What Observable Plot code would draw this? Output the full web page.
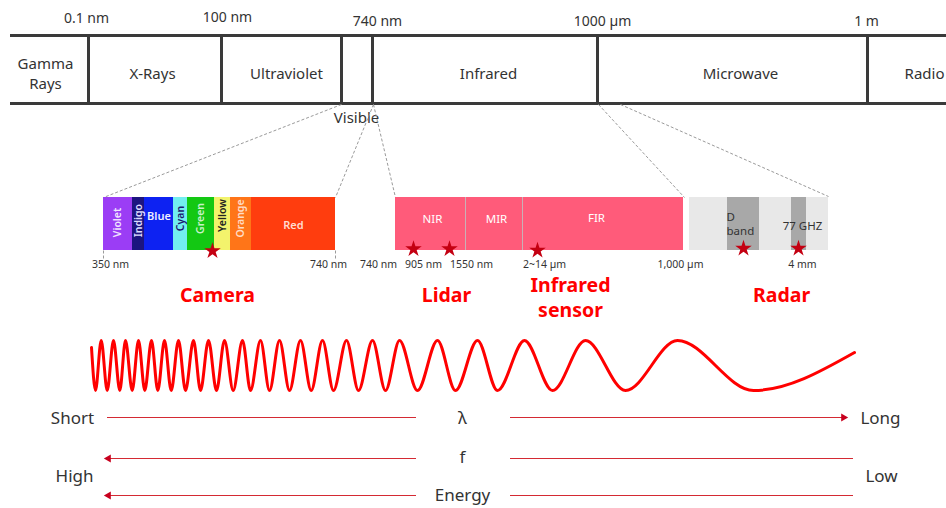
<!DOCTYPE html>
<html><head><meta charset="utf-8">
<script src="https://cdn.jsdelivr.net/npm/d3@7"></script>
<script src="https://cdn.jsdelivr.net/npm/@observablehq/plot@0.6"></script>
<style>body{margin:0;background:#fff;} svg{display:block}</style>
</head><body><div id="chart"></div>
<script>
// ---------------- data ----------------
const bandNames = ["Gamma\nRays", "X-Rays", "Ultraviolet", "", "Infrared", "Microwave", "Radio"];
const bandEdgeLabels = ["0.1 nm", "100 nm", "740 nm", "1000 µm", "1 m"];
const visibleLabel = "Visible";
const visibleColorNames = ["Violet", "Indigo", "Blue", "Cyan", "Green", "Yellow", "Orange", "Red"];
const visibleRangeLabels = ["350 nm", "740 nm"];
const infraredBands = ["NIR", "MIR", "FIR"];
const infraredTickLabels = ["740 nm", "905 nm", "1550 nm", "2~14 µm", "1,000 µm"];
const radarBands = ["D\nband", "77 GHZ"];
const radarTickLabels = ["4 mm"];
const sensorNames = ["Camera", "Lidar", "Infrared\nsensor", "Radar"];
const axisQuantities = ["λ", "f", "Energy"];
const endLabelsLeft = ["Short", "High"];
const endLabelsRight = ["Long", "Low"];
// wave: x of start, alternating troughs/peaks, end; level in units of amplitude (+1 = crest)
const waveX = [91, 95, 100.7, 106.7, 113, 119.3, 125, 131.7, 138, 144.3, 151, 157.3, 164, 170.7, 178, 185, 193, 200, 208, 216, 224, 232.7, 242, 250, 260, 269, 279, 289, 300, 310.7, 322, 333, 346, 358, 372, 385, 399, 417, 437, 455, 477, 497, 524, 552, 585, 625, 677, 753, 854];
const waveLevel = [0.72, ...waveX.slice(1, -1).map((_, i) => (i % 2 === 0 ? -1 : 1)), 0.52];

// ---------------- layout & style ----------------
const W = 946, H = 508;
const FONT = "'Noto Sans', 'Open Sans', sans-serif";
const dark = "#3a3a3a", textCol = "#333333";
const band = {top: 35, bottom: 103, left: 10, right: 946,
  dividers: [88, 221, 341, 372, 597, 867],
  labelX: [45, 152, 286, 356, 488, 740, 924], labelY: 72,
  edgeX: [86, 227, 377, 602, 866], edgeY: [18, 17, 21, 21, 21]};
const bar = {top: 197, bottom: 250};
const vis = {edges: [103, 132, 144, 173, 187, 214, 230, 251, 335],
  fills: ["#9b3df5", "#1c1580", "#0d22f2", "#72eef0", "#13c813", "#f3f36c", "#ff7518", "#ff3d0e"],
  textFills: ["#f0e4ff", "#dcdcff", "#eeeeff", "#1c1a70", "#c8f2c8", "#222222", "#ffdcc4", "#ffdcd0"],
  rotate: [-90, -90, 0, -90, -90, -90, -90, 0],
  labelY: [222, 220, 216, 218, 218, 215, 218, 225],
  tickX: [110, 328]};
const ir = {edges: [395, 465, 522, 683], fill: "#ff5b7a", labelX: [432, 496, 596], labelY: [219, 219, 218],
  tickX: [378, 423, 471, 544, 680]};
const radar = {x1: 689, x2: 828, bands: [[727, 759], [791, 806]], fill: "#e8e8e8", bandFill: "#a8a8a8",
  labels: [{x: 726, y: 223, anchor: "start"}, {x: 802, y: 226, anchor: "middle"}], tickX: [802]};
const tickY = 264;
const stars = [{x: 212, y: 250.5}, {x: 413, y: 248.5}, {x: 449, y: 248.5}, {x: 537, y: 250}, {x: 743, y: 248}, {x: 798, y: 248}];
const sensorPos = [{x: 217, y: 293}, {x: 446, y: 293}, {x: 570, y: 296}, {x: 781, y: 293}];
const dashLinks = [
  {x1: 341, y1: 104, x2: 103, y2: 197}, {x1: 373, y1: 104, x2: 335, y2: 197},
  {x1: 373, y1: 104, x2: 395, y2: 197}, {x1: 598, y1: 104, x2: 684, y2: 197},
  {x1: 620, y1: 104, x2: 828, y2: 196},
  {x1: 103, y1: 250, x2: 103, y2: 259}, {x1: 335, y1: 250, x2: 335, y2: 259}];
const wave = {mid: 365, amp: 25};
const rows = [{y: 417, dir: "right", labelY: 418}, {y: 458, dir: "left", labelY: 457}, {y: 495, dir: "left", labelY: 495}];
const arrowCol = "#d42a33", headCol = "#c8001e";
const leftSeg = [107, 416], rightSeg = [510, 853];

// ---------------- tables built from the arrays ----------------
const bandText = bandNames.map((t, i) => ({t: i === 3 ? "" : t, x: band.labelX[i], y: band.labelY}));
const edgeText = bandEdgeLabels.map((t, i) => ({t, x: band.edgeX[i], y: band.edgeY[i]}));
const visRects = visibleColorNames.map((t, i) => ({t, x1: vis.edges[i], x2: vis.edges[i + 1], fill: vis.fills[i],
  tf: vis.textFills[i], rot: vis.rotate[i], ly: vis.labelY[i]}));
const irRects = infraredBands.map((t, i) => ({t, x1: ir.edges[i], x2: ir.edges[i + 1], lx: ir.labelX[i], ly: ir.labelY[i]}));
const ticks = [
  ...visibleRangeLabels.map((t, i) => ({t, x: vis.tickX[i]})),
  ...infraredTickLabels.map((t, i) => ({t, x: ir.tickX[i]})),
  ...radarTickLabels.map((t, i) => ({t, x: radar.tickX[i]}))];
const radarRects = radarBands.map((t, i) => ({t, x1: radar.bands[i][0], x2: radar.bands[i][1], ...radar.labels[i]}));
const sensors = sensorNames.map((t, i) => ({t, ...sensorPos[i]}));
const wavePts = waveX.map((x, i) => ({x, y: wave.mid - wave.amp * waveLevel[i]}));
const rowLines = rows.flatMap(r => [{x1: leftSeg[0], x2: leftSeg[1], y: r.y}, {x1: rightSeg[0], x2: r.dir === "right" ? 842 : rightSeg[1], y: r.y}]);
const heads = rows.map(r => r.dir === "right" ? {x: 843, y: r.y, rot: 90} : {x: 108, y: r.y, rot: -90});
const midText = axisQuantities.map((t, i) => ({t, x: 462, y: rows[i].labelY}));
const endText = [
  {t: endLabelsLeft[0], x: 72, y: 418}, {t: endLabelsRight[0], x: 880, y: 418},
  {t: endLabelsLeft[1], x: 74, y: 476}, {t: endLabelsRight[1], x: 881, y: 476}];

const chart = Plot.plot({
  width: W, height: H, margin: 0,
  x: {domain: [0, W], range: [0, W], axis: null},
  y: {domain: [0, H], range: [0, H], axis: null},
  style: {fontFamily: FONT, background: "#fff", overflow: "visible"},
  marks: [
    // top spectrum band
    Plot.ruleY([band.top, band.bottom], {x1: band.left, x2: band.right, stroke: dark, strokeWidth: 3}),
    Plot.ruleX(band.dividers, {y1: band.top - 1, y2: band.bottom + 1, stroke: dark, strokeWidth: 3}),
    Plot.text(bandText, {x: "x", y: "y", text: "t", fontSize: 15, fill: textCol, lineHeight: 1.33}),
    Plot.text(edgeText, {x: "x", y: "y", text: "t", fontSize: 14, fill: textCol}),
    Plot.text([visibleLabel], {x: 356, y: 118, text: d => d, fontSize: 15, fill: textCol}),
    // dashed zoom lines
    Plot.link(dashLinks, {x1: "x1", y1: "y1", x2: "x2", y2: "y2", stroke: "#9a9a9a", strokeWidth: 1, strokeDasharray: "3,2"}),
    // visible bar
    Plot.rect(visRects, {x1: "x1", x2: "x2", y1: bar.top, y2: bar.bottom, fill: "fill"}),
    Plot.text(visRects.filter(d => d.rot !== 0), {x: d => (d.x1 + d.x2) / 2, y: "ly", text: "t", rotate: -90, fill: "tf", fontSize: 10.5, fontWeight: 600}),
    Plot.text(visRects.filter(d => d.rot === 0), {x: d => (d.x1 + d.x2) / 2, y: "ly", text: "t", fill: "tf", fontSize: 11, fontWeight: 600}),
    // infrared bar
    Plot.rect(irRects, {x1: "x1", x2: "x2", y1: bar.top, y2: bar.bottom, fill: ir.fill}),
    Plot.ruleX(ir.edges.slice(1, -1), {y1: bar.top, y2: bar.bottom, stroke: "#c9b0b6", strokeWidth: 1}),
    Plot.text(irRects, {x: "lx", y: "ly", text: "t", fill: "#fff", fontSize: 11.5}),
    // radar bar
    Plot.rect([radar], {x1: "x1", x2: "x2", y1: bar.top, y2: bar.bottom, fill: radar.fill}),
    Plot.rect(radarRects, {x1: "x1", x2: "x2", y1: bar.top, y2: bar.bottom, fill: radar.bandFill}),
    Plot.text(radarRects.filter(d => d.anchor === "start"), {x: "x", y: "y", text: "t", textAnchor: "start", fill: "#333", fontSize: 11.5, lineHeight: 1.2}),
    Plot.text(radarRects.filter(d => d.anchor === "middle"), {x: "x", y: "y", text: "t", textAnchor: "middle", fill: "#333", fontSize: 11.5}),
    // tick labels under bars
    Plot.text(ticks, {x: "x", y: tickY, text: "t", fill: textCol, fontSize: 10.5}),
    // stars
    Plot.dot(stars, {x: "x", y: "y", symbol: "star", r: 5.2, fill: "#c40012"}),
    // sensor names
    Plot.text(sensors, {x: "x", y: "y", text: "t", fill: "#ff0000", fontSize: 19.5, fontWeight: "bold", lineHeight: 1.3}),
    // wave
    Plot.line(wavePts, {x: "x", y: "y", curve: "monotone-x", stroke: "#ff0000", strokeWidth: 3}),
    // bottom arrows
    Plot.ruleY(rowLines, {x1: "x1", x2: "x2", y: "y", stroke: arrowCol, strokeWidth: 1}),
    Plot.dot(heads, {x: "x", y: "y", symbol: "triangle", rotate: "rot", r: 3, fill: headCol}),
    Plot.text(midText, {x: "x", y: "y", text: "t", fill: textCol, fontSize: 17}),
    Plot.text(endText, {x: "x", y: "y", text: "t", fill: textCol, fontSize: 17})
  ]
});
document.getElementById("chart").appendChild(chart);
</script>
</body></html>
